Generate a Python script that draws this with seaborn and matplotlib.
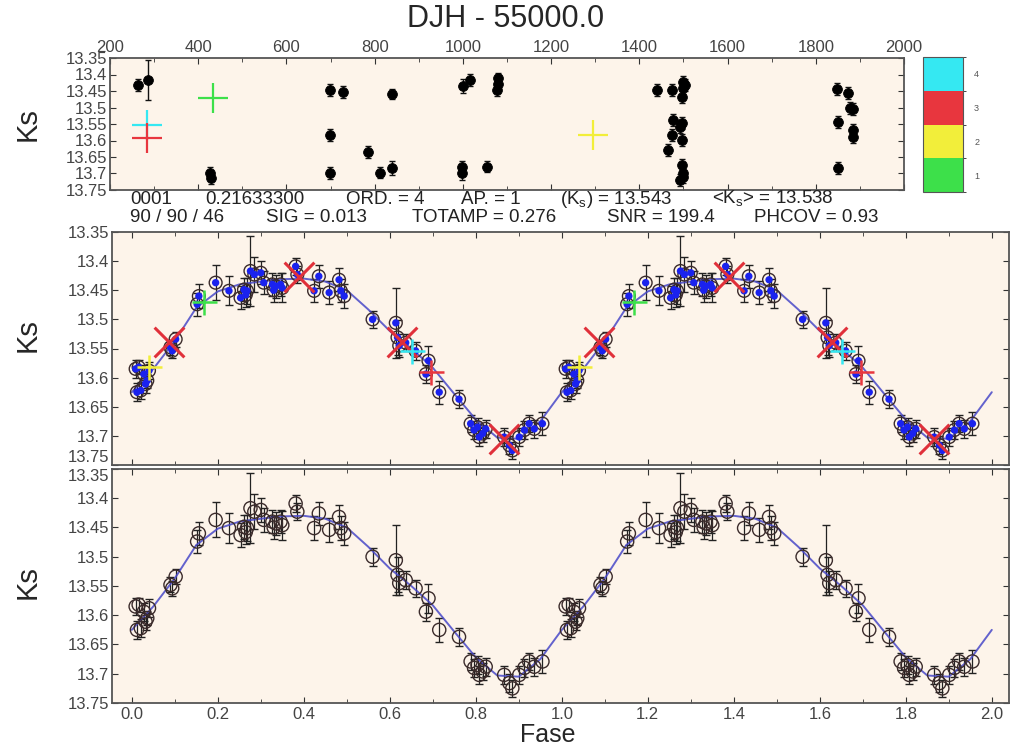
import numpy as np
import pandas as pd
import seaborn as sns
import matplotlib.pyplot as plt
from matplotlib.colors import ListedColormap, BoundaryNorm
from matplotlib.cm import ScalarMappable
from matplotlib.ticker import MultipleLocator, FormatStrFormatter

sns.set_style("ticks")
plt.rcParams['font.family'] = ['Liberation Sans', 'DejaVu Sans']

# time series, JD - 55000
days = [264, 287, 427, 429, 699, 729, 699, 699, 786, 812, 839, 839,
        997, 997, 1001, 1016, 1054, 1077, 1080, 1080,
        1439, 1473, 1500, 1504, 1496, 1477, 1496, 1473, 1496, 1466, 1496,
        1500, 1492, 1500, 1492, 1500,
        1847, 1874, 1878, 1885, 1851, 1885, 1885, 1851]
days_ks = [13.432, 13.417, 13.699, 13.714, 13.447, 13.452, 13.583, 13.699,
           13.634, 13.697, 13.684, 13.459,
           13.679, 13.699, 13.435, 13.417, 13.679, 13.447, 13.430, 13.412,
           13.447, 13.447, 13.422, 13.432, 13.467, 13.537, 13.547, 13.583,
           13.598, 13.628, 13.673, 13.699, 13.720, 13.440, 13.560, 13.710,
           13.445, 13.455, 13.502, 13.505, 13.543, 13.568, 13.590, 13.684]
days_err = [0.018, 0.060, 0.018, 0.018, 0.018, 0.018, 0.018, 0.018,
            0.018, 0.016, 0.022, 0.016,
            0.018, 0.022, 0.022, 0.018, 0.016, 0.018, 0.018, 0.018,
            0.018, 0.018, 0.018, 0.018, 0.018, 0.018, 0.018, 0.018,
            0.018, 0.018, 0.018, 0.018, 0.018, 0.018, 0.018, 0.018,
            0.018, 0.018, 0.018, 0.018, 0.018, 0.018, 0.018, 0.018]

# seasonal means (colour = season 1..4)
season_days = [283, 283, 434, 1296]
season_ks = [13.553, 13.593, 13.472, 13.583]
season_id = [4, 3, 1, 2]
season_colors = {1: '#3de04a', 2: '#f2ee3a', 3: '#e8363e', 4: '#35e8f2'}

# phase folded points
phase = [0.012, 0.009, 0.016, 0.028, 0.032, 0.036, 0.040, 0.021,
         0.090, 0.094, 0.102, 0.152, 0.156, 0.195, 0.226, 0.253, 0.261,
         0.265, 0.268, 0.276, 0.285, 0.300, 0.307, 0.327, 0.330, 0.335,
         0.346, 0.350, 0.381, 0.385, 0.424, 0.435, 0.459, 0.482, 0.486,
         0.494, 0.560, 0.614, 0.618, 0.622, 0.637, 0.660, 0.684, 0.690,
         0.715, 0.761, 0.788, 0.796, 0.804, 0.808, 0.816, 0.823, 0.866,
         0.878, 0.885, 0.901, 0.913, 0.924, 0.936, 0.955]
ks = [13.625, 13.585, 13.582, 13.594, 13.611, 13.605, 13.588, 13.622,
      13.548, 13.554, 13.534, 13.474, 13.460, 13.437, 13.451, 13.463, 13.449,
      13.458, 13.451, 13.417, 13.423, 13.420, 13.437, 13.440, 13.450, 13.443,
      13.440, 13.446, 13.409, 13.423, 13.451, 13.426, 13.454, 13.432, 13.451,
      13.460, 13.500, 13.506, 13.531, 13.545, 13.540, 13.554, 13.594, 13.571,
      13.625, 13.637, 13.679, 13.690, 13.685, 13.702, 13.696, 13.688, 13.702,
      13.716, 13.725, 13.702, 13.690, 13.679, 13.688, 13.679]
ks_err = [0.015, 0.015, 0.012, 0.015, 0.015, 0.012, 0.015, 0.015,
          0.013, 0.013, 0.013, 0.020, 0.020, 0.030, 0.025, 0.020, 0.020,
          0.020, 0.022, 0.060, 0.030, 0.020, 0.020, 0.020, 0.020, 0.020,
          0.020, 0.025, 0.015, 0.015, 0.020, 0.020, 0.020, 0.020, 0.020,
          0.020, 0.015, 0.060, 0.030, 0.020, 0.015, 0.015, 0.015, 0.025,
          0.020, 0.015, 0.015, 0.015, 0.015, 0.015, 0.015, 0.015, 0.015,
          0.015, 0.015, 0.015, 0.015, 0.015, 0.015, 0.020]

# fitted light curve, one cycle
fit_phase = [0.00, 0.05, 0.10, 0.15, 0.20, 0.25, 0.30, 0.35, 0.40, 0.45, 0.50,
             0.55, 0.60, 0.65, 0.70, 0.75, 0.80, 0.85, 0.90, 0.95, 1.00]
fit_ks = [13.625, 13.585, 13.537, 13.480, 13.452, 13.440, 13.435, 13.431,
          13.430, 13.435, 13.450, 13.483, 13.520, 13.550, 13.583, 13.628,
          13.672, 13.703, 13.705, 13.675, 13.625]

# binned means (red X) and seasonal phase markers (+)
bin_phase = [0.086, 0.389, 0.629, 0.866]
bin_ks = [13.538, 13.427, 13.538, 13.705]
mark_phase = [0.040, 0.168, 0.696, 0.652]
mark_ks = [13.582, 13.471, 13.590, 13.555]
mark_id = [2, 1, 3, 4]

yticks = [13.35, 13.40, 13.45, 13.50, 13.55, 13.60, 13.65, 13.70, 13.75]
ytick_labels = ['13.35', '13.4', '13.45', '13.5', '13.55', '13.6', '13.65', '13.7', '13.75']

# two cycles
pts = pd.DataFrame({'phase': phase, 'ks': ks, 'err': ks_err})
pts = pd.concat([pts, pts.assign(phase=pts.phase + 1)])
fit = pd.DataFrame({'phase': fit_phase, 'ks': fit_ks})
fit = pd.concat([fit, fit.iloc[1:].assign(phase=fit.phase.iloc[1:] + 1)])
bins = pd.DataFrame({'phase': bin_phase, 'ks': bin_ks})
bins = pd.concat([bins, bins.assign(phase=bins.phase + 1)])
marks = pd.DataFrame({'phase': mark_phase, 'ks': mark_ks, 'id': mark_id})
marks = pd.concat([marks, marks.assign(phase=marks.phase + 1)])
ts = pd.DataFrame({'day': days, 'ks': days_ks, 'err': days_err})
seas = pd.DataFrame({'day': season_days, 'ks': season_ks, 'id': season_id})

bg = '#fdf4ea'
tick_col = '#444444'
W, H = 1011, 749
fig = plt.figure(figsize=(W / 100, H / 100), dpi=100)


def box(l, t, r, b):
    return [l / W, 1 - b / H, (r - l) / W, (b - t) / H]


def style(ax):
    ax.set_facecolor(bg)
    for s in ax.spines.values():
        s.set_color('#555555')
        s.set_linewidth(1.3)
    ax.tick_params(which='both', direction='in', top=True, right=True,
                   colors='#333333', labelcolor=tick_col, labelsize=12)
    ax.tick_params(which='major', length=4)
    ax.tick_params(which='minor', length=3)
    ax.set_yticks(yticks)
    ax.set_yticklabels(ytick_labels)
    ax.set_ylim(13.75, 13.35)
    ax.tick_params(axis='y', pad=2)


# ---- top panel: time series
ax1 = fig.add_axes(box(110, 58, 904, 190))
style(ax1)
ax1.errorbar(ts.day, ts.ks, yerr=ts.err, fmt='none', ecolor='#111111',
             elinewidth=1, capsize=2, zorder=2)
sns.scatterplot(data=ts, x='day', y='ks', color='black', s=50,
                edgecolor='black', ax=ax1, zorder=3)
for i, r in seas.iterrows():
    ax1.plot(r.day, r.ks, marker='+', ms=22, mew=1.6,
             color=season_colors[r.id], zorder=4)
ax1.set_xlim(200, 2000)
ax1.set_ylim(13.75, 13.35)
ax1.xaxis.set_major_locator(MultipleLocator(200))
ax1.xaxis.set_minor_locator(MultipleLocator(100))
ax1.tick_params(axis='x', labeltop=True, labelbottom=False, pad=2)
ax1.set_xlabel('')
ax1.set_ylabel('')

# ---- colour bar for seasons
axc = fig.add_axes(box(923, 57, 963, 192))
cmap = ListedColormap([season_colors[k] for k in [1, 2, 3, 4]])
norm = BoundaryNorm([0.5, 1.5, 2.5, 3.5, 4.5], cmap.N)
cb = fig.colorbar(ScalarMappable(norm=norm, cmap=cmap), cax=axc, ticks=[1, 2, 3, 4])
cb.outline.set_edgecolor('#555555')
axc.tick_params(direction='in', length=3, left=True, right=True,
                labelsize=6.5, labelcolor='#555555', pad=8)

# ---- middle panel: phased with seasonal info
ax2 = fig.add_axes(box(112, 232, 1009, 465))
style(ax2)
ax2.errorbar(pts.phase, pts.ks, yerr=pts.err, fmt='none', ecolor='#222222',
             elinewidth=0.9, capsize=3, zorder=2)
sns.lineplot(data=fit, x='phase', y='ks', color='#4848c8', lw=1.4,
             alpha=0.85, ax=ax2, zorder=3)
sns.scatterplot(data=pts, x='phase', y='ks', s=85, facecolors='none',
                edgecolor='#3b2b2b', linewidth=1, ax=ax2, zorder=4)
sns.scatterplot(data=pts, x='phase', y='ks', s=28, color='#1a22ee',
                edgecolor='none', ax=ax2, zorder=5)
sns.scatterplot(data=bins, x='phase', y='ks', marker='x', s=460,
                color='#e0303a', linewidth=2.2, ax=ax2, zorder=6)
for i, r in marks.iterrows():
    ax2.plot(r.phase, r.ks, marker='+', ms=18, mew=1.8,
             color=season_colors[r.id], zorder=6)
ax2.set_xlim(-0.046, 2.04)
ax2.xaxis.set_major_locator(MultipleLocator(0.2))
ax2.xaxis.set_minor_locator(MultipleLocator(0.1))
ax2.tick_params(axis='x', labelbottom=False)
ax2.set_xlabel('')
ax2.set_ylabel('')
ax2.get_yticklabels()[-1].set_va('bottom')

# ---- bottom panel: phased light curve
ax3 = fig.add_axes(box(112, 469, 1009, 703))
style(ax3)
ax3.errorbar(pts.phase, pts.ks, yerr=pts.err, fmt='none', ecolor='#222222',
             elinewidth=0.9, capsize=3, zorder=2)
sns.lineplot(data=fit, x='phase', y='ks', color='#4848c8', lw=1.4,
             alpha=0.85, ax=ax3, zorder=3)
sns.scatterplot(data=pts, x='phase', y='ks', s=90, facecolors='none',
                edgecolor='#3b2b2b', linewidth=1, ax=ax3, zorder=4)
ax3.set_xlim(-0.046, 2.04)
ax3.xaxis.set_major_locator(MultipleLocator(0.2))
ax3.xaxis.set_minor_locator(MultipleLocator(0.1))
ax3.xaxis.set_major_formatter(FormatStrFormatter('%.1f'))
ax3.tick_params(axis='x', pad=3, labelsize=12)
ax3.set_xlabel('')
ax3.set_ylabel('')
ax3.get_yticklabels()[0].set_va('top')

# ---- texts
fig.text(0.5, 1 - 19 / H, 'DJH - 55000.0', ha='center', va='center', fontsize=22)
for y in [124, 335, 582]:
    fig.text(28 / W, 1 - y / H, 'Ks', rotation=90, ha='center', va='center', fontsize=21)
fig.text(548 / W, 1 - 735 / H, 'Fase', ha='center', va='center', fontsize=18)

row1 = [(130, '0001'), (205, '0.21633300'), (346, 'ORD. = 4'), (461, 'AP. = 1'),
        (560, r'(K$_\mathregular{s}$) = 13.543'), (712, r'<K$_\mathregular{s}$> = 13.538')]
row2 = [(130, '90 / 90 / 46'), (266, 'SIG = 0.013'), (412, 'TOTAMP = 0.276'),
        (607, 'SNR = 199.4'), (754, 'PHCOV = 0.93')]
for x, s in row1:
    fig.text(x / W, 1 - 199 / H, s, ha='left', va='center', fontsize=13.5, color='#222222')
for x, s in row2:
    fig.text(x / W, 1 - 218 / H, s, ha='left', va='center', fontsize=13.5, color='#222222')

plt.savefig('out.png', dpi=100)
